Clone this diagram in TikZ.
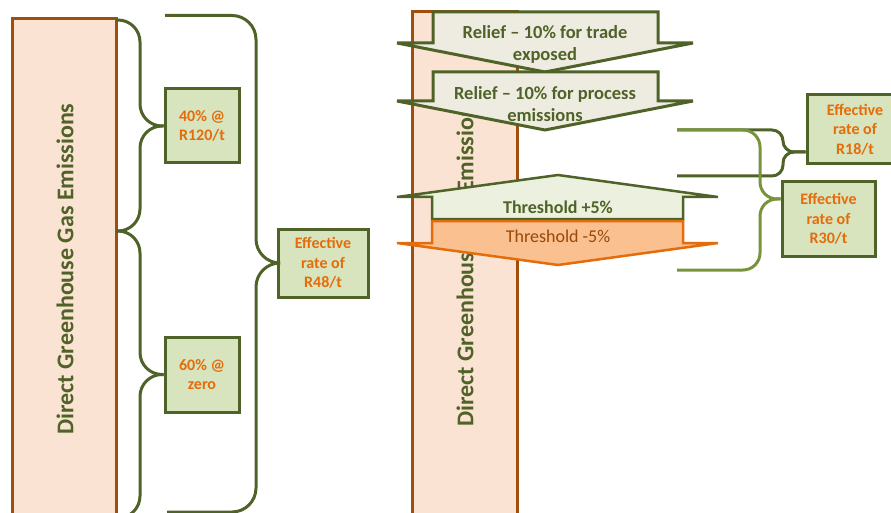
\documentclass[tikz,border=0pt]{standalone}
\usepackage{fontspec}
\setmainfont{Carlito}
\definecolor{olive}{HTML}{4F6228}
\definecolor{lightolive}{HTML}{77933C}
\definecolor{barline}{HTML}{A04E0C}
\definecolor{barfill}{HTML}{FAE3D2}
\definecolor{boxfill}{HTML}{D7E4BD}
\definecolor{ratetext}{HTML}{E46C0A}
\definecolor{relieffill}{HTML}{EEECE1}
\definecolor{upfill}{HTML}{EBF1DE}
\definecolor{downfill}{HTML}{FAC090}
\definecolor{downline}{HTML}{E46C0A}
\definecolor{downtext}{HTML}{984807}
\begin{document}
\begin{tikzpicture}[x=1pt,y=-1pt,
  bar/.style={draw=barline, fill=barfill, line width=3pt, inner sep=0pt},
  bartext/.style={text=olive, font=\bfseries\fontsize{24}{28}\selectfont, rotate=90, inner sep=0pt},
  ratebox/.style={draw=olive, fill=boxfill, line width=3pt, text=ratetext,
    font=\bfseries\fontsize{16}{19.5}\selectfont, align=center, inner sep=0pt},
  brace/.style={draw=olive, line width=3pt},
  lightbrace/.style={draw=lightolive, line width=3pt},
  relief/.style={draw=olive, fill=relieffill, line width=3pt, line join=miter},
  relieftext/.style={text=olive, font=\bfseries\fontsize{18.5}{22}\selectfont, align=center, inner sep=0pt},
  upshape/.style={draw=olive, fill=upfill, line width=2.5pt},
  downshape/.style={draw=downline, fill=downfill, line width=2.5pt},
]
\useasboundingbox (0,0) rectangle (891,513);
\clip (0,0) rectangle (891,513);

% ---------- left column: full emissions split into two tranches ----------
\node[bar, minimum width=104pt, minimum height=511pt] (barL) at (64,274.5) {};
\node[bartext] (barLtext) at (65,269) {Direct Greenhouse Gas Emissions};

\node[ratebox, minimum width=74pt, minimum height=74pt] (box40) at (202,126) {40\% @\\R120/t};
\node[ratebox, minimum width=74pt, minimum height=75pt] (box60) at (202,374.5) {60\% @\\zero};
\node[ratebox, minimum width=90pt, minimum height=68pt] (box48) at (323,263) {Effective\\rate of\\R48/t};

\coordinate (l1a) at (116,20);
\coordinate (l1b) at (116,231);
\coordinate (l2b) at (116,518);
\coordinate (g1a) at (165,15.5);
\coordinate (g1b) at (167,512);

\draw[brace, rounded corners=22pt] (l1a) -| (140,126) -- (box40.west);
\draw[brace, rounded corners=22pt] (l1b) -| (140,126) -- (box40.west);
\draw[brace, rounded corners=22pt] (l1b) -| (140,374.5) -- (box60.west);
\draw[brace, rounded corners=22pt] (l2b) -| (140,374.5) -- (box60.west);

\draw[brace, rounded corners=24pt] (g1a) -| (256,263) -- (box48.west);
\draw[brace, rounded corners=24pt] (g1b) -| (256,263) -- (box48.west);

% ---------- right column: emissions with reliefs and thresholds ----------
\node[bar, minimum width=105pt, minimum height=520pt] (barR) at (464.5,272) {};
\node[bartext] (barRtext) at (465,261) {Direct Greenhouse Gas Emissions};

% relief arrows pointing down
\draw[relief] (433,12) -- (658,12) -- (658,43) -- (693,43) -- (545,72) -- (397,43) -- (433,43) -- cycle;
\node[relieftext] (relief1) at (545,44) {Relief -- 10\% for trade\\exposed};
\draw[relief] (433,72) -- (658,72) -- (658,101) -- (693,101) -- (545,130) -- (397,101) -- (433,101) -- cycle;
\node[relieftext] (relief2) at (545,104) {Relief -- 10\% for process\\emissions};

% threshold arrows
\draw[upshape] (432,219) -- (683,219) -- (683,197) -- (718,197) -- (558,175) -- (397,197) -- (432,197) -- cycle;
\node[text=olive, font=\bfseries\fontsize{18}{20}\selectfont, inner sep=0pt] (tplus) at (558,207) {Threshold +5\%};
\draw[downshape] (432,221) -- (683,221) -- (683,243) -- (718,243) -- (558,265) -- (397,243) -- (432,243) -- cycle;
\node[text=downtext, font=\fontsize{18}{20}\selectfont, inner sep=0pt] (tminus) at (558,236) {Threshold -5\%};

% effective rate boxes
\node[ratebox, minimum width=96pt, minimum height=69pt] (box18) at (855,129.5) {Effective\\rate of\\R18/t};
\node[ratebox, minimum width=93pt, minimum height=74pt] (box30) at (828.5,219) {Effective\\rate of\\R30/t};

\coordinate (d1a) at (677,130);
\coordinate (d1b) at (677,176);
\coordinate (e1b) at (677,270);
\coordinate (tip18) at (box18.west |- 0,152);
\coordinate (tip30) at (box30.west |- 0,199);

\draw[brace, rounded corners=11pt] (d1a) -| (783,152) -- (tip18);
\draw[brace, rounded corners=11pt] (d1b) -| (783,152) -- (tip18);
\draw[lightbrace, rounded corners=17pt] (d1a) -| (760,199) -- (tip30);
\draw[lightbrace, rounded corners=17pt] (e1b) -| (760,199) -- (tip30);
\end{tikzpicture}
\end{document}
